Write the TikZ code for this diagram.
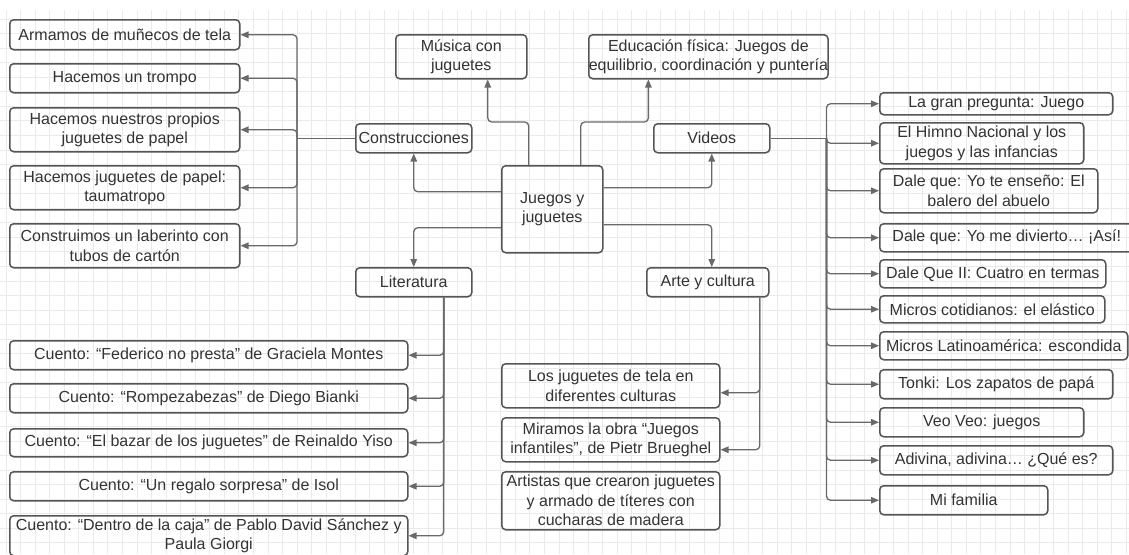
\documentclass[tikz,border=0pt]{standalone}
\definecolor{mapa_borde}{RGB}{85, 85, 85}
\definecolor{mapa_flecha}{RGB}{105, 105, 105}
\definecolor{mapa_texto}{RGB}{51, 51, 51}
\definecolor{mapa_grilla}{RGB}{234, 234, 234}
\usepackage{fontspec}
\setmainfont{Liberation Sans}
\usepackage{tikz}
\usetikzlibrary{arrows.meta, positioning, calc}

\begin{document}
\begin{tikzpicture}[x=1pt, y=-1pt,
    caja/.style={draw=mapa_borde, line width=1.5pt, rounded corners=4pt,
                 anchor=north west, inner sep=0pt, align=center,
                 text=mapa_texto, font=\fontsize{16}{19.5}\selectfont},
    linea/.style={draw=mapa_flecha, line width=1.3pt, rounded corners=4pt},
    flecha/.style={linea, -{Triangle[length=8pt, width=6.5pt]}},
    grilla/.style={draw=mapa_grilla, line width=0.8pt}]
  \useasboundingbox (0,0) rectangle (1129,554);
  \clip (0,0) rectangle (1129,554);
  % fondo cuadriculado
  \foreach \i in {0,...,77} {\draw[grilla] ({6+14.55*\i},10) -- ({6+14.55*\i},554);}
  \foreach \j in {0,...,37} {\draw[grilla] (0,{19+14.55*\j}) -- (1129,{19+14.55*\j});}

  % nodo central y ramas
  \node[caja, minimum width=101, minimum height=87] (juegos) at (501,165) {Juegos y\\juguetes};
  \node[caja, minimum width=131, minimum height=44] (musica) at (395,34) {Música con\\juguetes};
  \node[caja, minimum width=194, minimum height=44] (educ) at (588,34)
        {Educación física: Juegos de\\equilibrio, coordinación y puntería};
  \node[caja, minimum width=116, minimum height=29] (cons) at (355,123) {Construcciones};
  \node[caja, minimum width=116, minimum height=29] (videos) at (653,123) {Videos};
  \node[caja, minimum width=116, minimum height=29] (lit) at (355,267) {Literatura};
  \node[caja, minimum width=122, minimum height=29] (arte) at (646,267) {Arte y cultura};

  % construcciones
  \node[caja, minimum width=230, minimum height=30] (armamos) at (9,19) {Armamos de muñecos de tela};
  \node[caja, minimum width=230, minimum height=29] (trompo) at (9,63) {Hacemos un trompo};
  \node[caja, minimum width=230, minimum height=44] (propios) at (9,107) {Hacemos nuestros propios\\juguetes de papel};
  \node[caja, minimum width=230, minimum height=44] (tauma) at (9,165) {Hacemos juguetes de papel:\\taumatropo};
  \node[caja, minimum width=230, minimum height=44] (laber) at (9,223) {Construimos un laberinto con\\tubos de cartón};

  % literatura
  \node[caja, minimum width=398, minimum height=29] (federico) at (9,340) {Cuento: “Federico no presta” de Graciela Montes};
  \node[caja, minimum width=398, minimum height=29] (rompe) at (9,383) {Cuento: “Rompezabezas” de Diego Bianki};
  \node[caja, minimum width=398, minimum height=28] (bazar) at (9,428) {Cuento: “El bazar de los juguetes” de Reinaldo Yiso};
  \node[caja, minimum width=398, minimum height=29] (regalo) at (9,471) {Cuento: “Un regalo sorpresa” de Isol};
  \node[caja, minimum width=398, minimum height=40] (dentro) at (9,515)
        {Cuento: “Dentro de la caja” de Pablo David Sánchez y\\Paula Giorgi};

  % arte y cultura
  \node[caja, minimum width=218, minimum height=44] (tela) at (501,363) {Los juguetes de tela en\\diferentes culturas};
  \node[caja, minimum width=218, minimum height=44] (obra) at (501,417) {Miramos la obra “Juegos\\infantiles”, de Pietr Brueghel};
  \node[caja, minimum width=218, minimum height=58] (artistas) at (501,471)
        {Artistas que crearon juguetes\\y armado de títeres con\\cucharas de madera};

  % videos
  \node[caja, minimum width=233, minimum height=22] (pregunta) at (879,92) {La gran pregunta: Juego};
  \node[caja, minimum width=204, minimum height=41] (himno) at (879,122) {El Himno Nacional y los\\juegos y las infancias};
  \node[caja, minimum width=218, minimum height=44] (balero) at (879,168) {Dale que: Yo te enseño: El\\balero del abuelo};
  \node[caja, minimum width=254, minimum height=28] (divierto) at (879,223) {Dale que: Yo me divierto… ¡Así!};
  \node[caja, minimum width=226, minimum height=28] (termas) at (879,259) {Dale Que II: Cuatro en termas};
  \node[caja, minimum width=225, minimum height=27] (elastico) at (879,295) {Micros cotidianos: el elástico};
  \node[caja, minimum width=248, minimum height=28] (escondida) at (879,331) {Micros Latinoamérica: escondida};
  \node[caja, minimum width=233, minimum height=29] (tonki) at (879,369) {Tonki: Los zapatos de papá};
  \node[caja, minimum width=204, minimum height=29] (veoveo) at (879,407) {Veo Veo: juegos};
  \node[caja, minimum width=233, minimum height=29] (adivina) at (879,445) {Adivina, adivina… ¿Qué es?};
  \node[caja, minimum width=168, minimum height=29] (familia) at (879,485) {Mi familia};

  % conectores del nodo central
  \draw[flecha] ([yshift=17.5]juegos.west) -| (cons.south);
  \draw[flecha] ([yshift=-18.5]juegos.west) -| (lit.north);
  \draw[flecha] ([yshift=21.5]juegos.east) -| (videos.south);
  \draw[flecha] ([yshift=-15.5]juegos.east) -| ([xshift=4]arte.north);
  \draw[flecha] ([xshift=-23.5]juegos.north) -- ++(0,-43) -| ([xshift=26.5]musica.south);
  \draw[flecha] ([xshift=28.5]juegos.north) -- ++(0,-43) -| ([xshift=-60]educ.south);

  % construcciones
  \draw[linea] (cons.west) -- ++(-58,0) coordinate (cbus);
  \foreach \n in {armamos, trompo, propios, tauma, laber}
    \draw[flecha] (cbus) |- (\n.east);

  % literatura
  \foreach \n in {federico, rompe, bazar, regalo, dentro}
    \draw[flecha] ([xshift=30]lit.south) |- (\n.east);

  % arte y cultura
  \draw[flecha] ([xshift=52]arte.south) |- ([yshift=-7]tela.east);
  \draw[flecha] ([xshift=52]arte.south) |- ([yshift=-10]obra.east);

  % videos
  \draw[linea] (videos.east) -- ++(56,0) coordinate (vbus);
  \foreach \n in {pregunta, himno, balero, divierto, termas, elastico,
                  escondida, tonki, veoveo, adivina, familia}
    \draw[flecha] (vbus) |- (\n.west);
\end{tikzpicture}
\end{document}
